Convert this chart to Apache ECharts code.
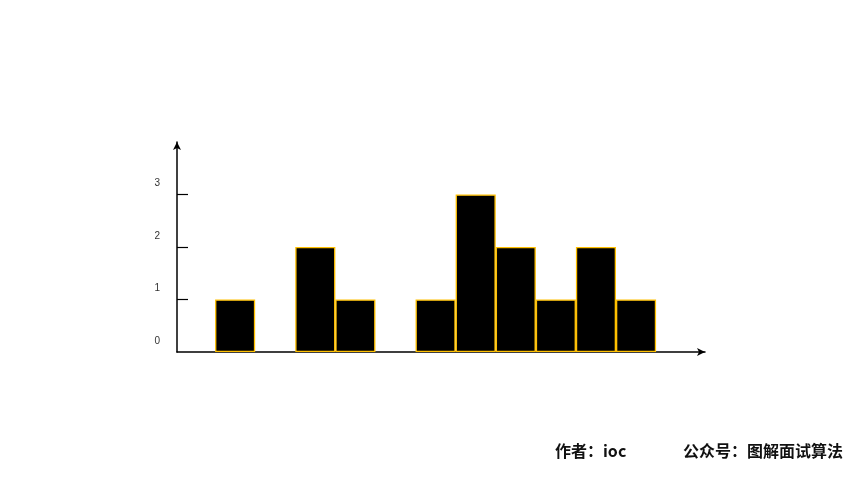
<!DOCTYPE html>
<html><head><meta charset="utf-8">
<script src="https://cdn.jsdelivr.net/npm/echarts@6/dist/echarts.min.js"></script>
<style>html,body{margin:0;padding:0;background:#fff}#c{width:853px;height:480px}</style>
</head><body><div id="c"></div>
<script>
const categories = [0,1,2,3,4,5,6,7,8,9,10,11];
const heights = [0,1,0,2,1,0,1,3,2,1,2,1];
const yTickLabels = [0,1,2,3];
const yTicks = [1,2,3];
const authorText = '作者：ioc';
const accountText = '公众号：图解面试算法';

const chart = echarts.init(document.getElementById('c'));
chart.setOption({
  animation: false,
  backgroundColor: '#fff',
  grid: { left: 177, right: 148, top: 142, bottom: 128 },
  xAxis: {
    type: 'value', min: -0.45, max: 12.72,
    axisLine: { show: true, onZero: false, symbol: ['none', 'arrow'], symbolSize: [6, 8], lineStyle: { color: '#000', width: 1.5 } },
    axisTick: { show: false }, axisLabel: { show: false }, splitLine: { show: false }
  },
  yAxis: {
    type: 'value', min: 0, max: 4, interval: 1,
    axisLine: { show: true, onZero: false, symbol: ['none', 'arrow'], symbolSize: [6, 8], lineStyle: { color: '#000', width: 1.5 } },
    axisTick: { show: true, inside: true, length: 11, customValues: yTicks, lineStyle: { color: '#000', width: 1.2 } },
    axisLabel: { customValues: yTickLabels, color: '#333', fontSize: 10, fontFamily: 'Liberation Sans',
      margin: 17, verticalAlign: 'bottom', lineHeight: 22 },
    splitLine: { show: false }
  },
  series: [{
    type: 'bar',
    data: categories.map((c, i) => heights[i] > 0 ? [c, heights[i]] : [c, '-']),
    barWidth: '100%',
    itemStyle: { color: '#000', borderColor: '#FFC000', borderWidth: 1.3 }
  }],
  graphic: [
    { type: 'text', left: 555, top: 443, style: { text: authorText, fill: '#111', font: 'bold 16px "Noto Sans CJK SC"' } },
    { type: 'text', left: 683, top: 443, style: { text: accountText, fill: '#111', font: 'bold 16px "Noto Sans CJK SC"' } }
  ]
});
</script></body></html>
